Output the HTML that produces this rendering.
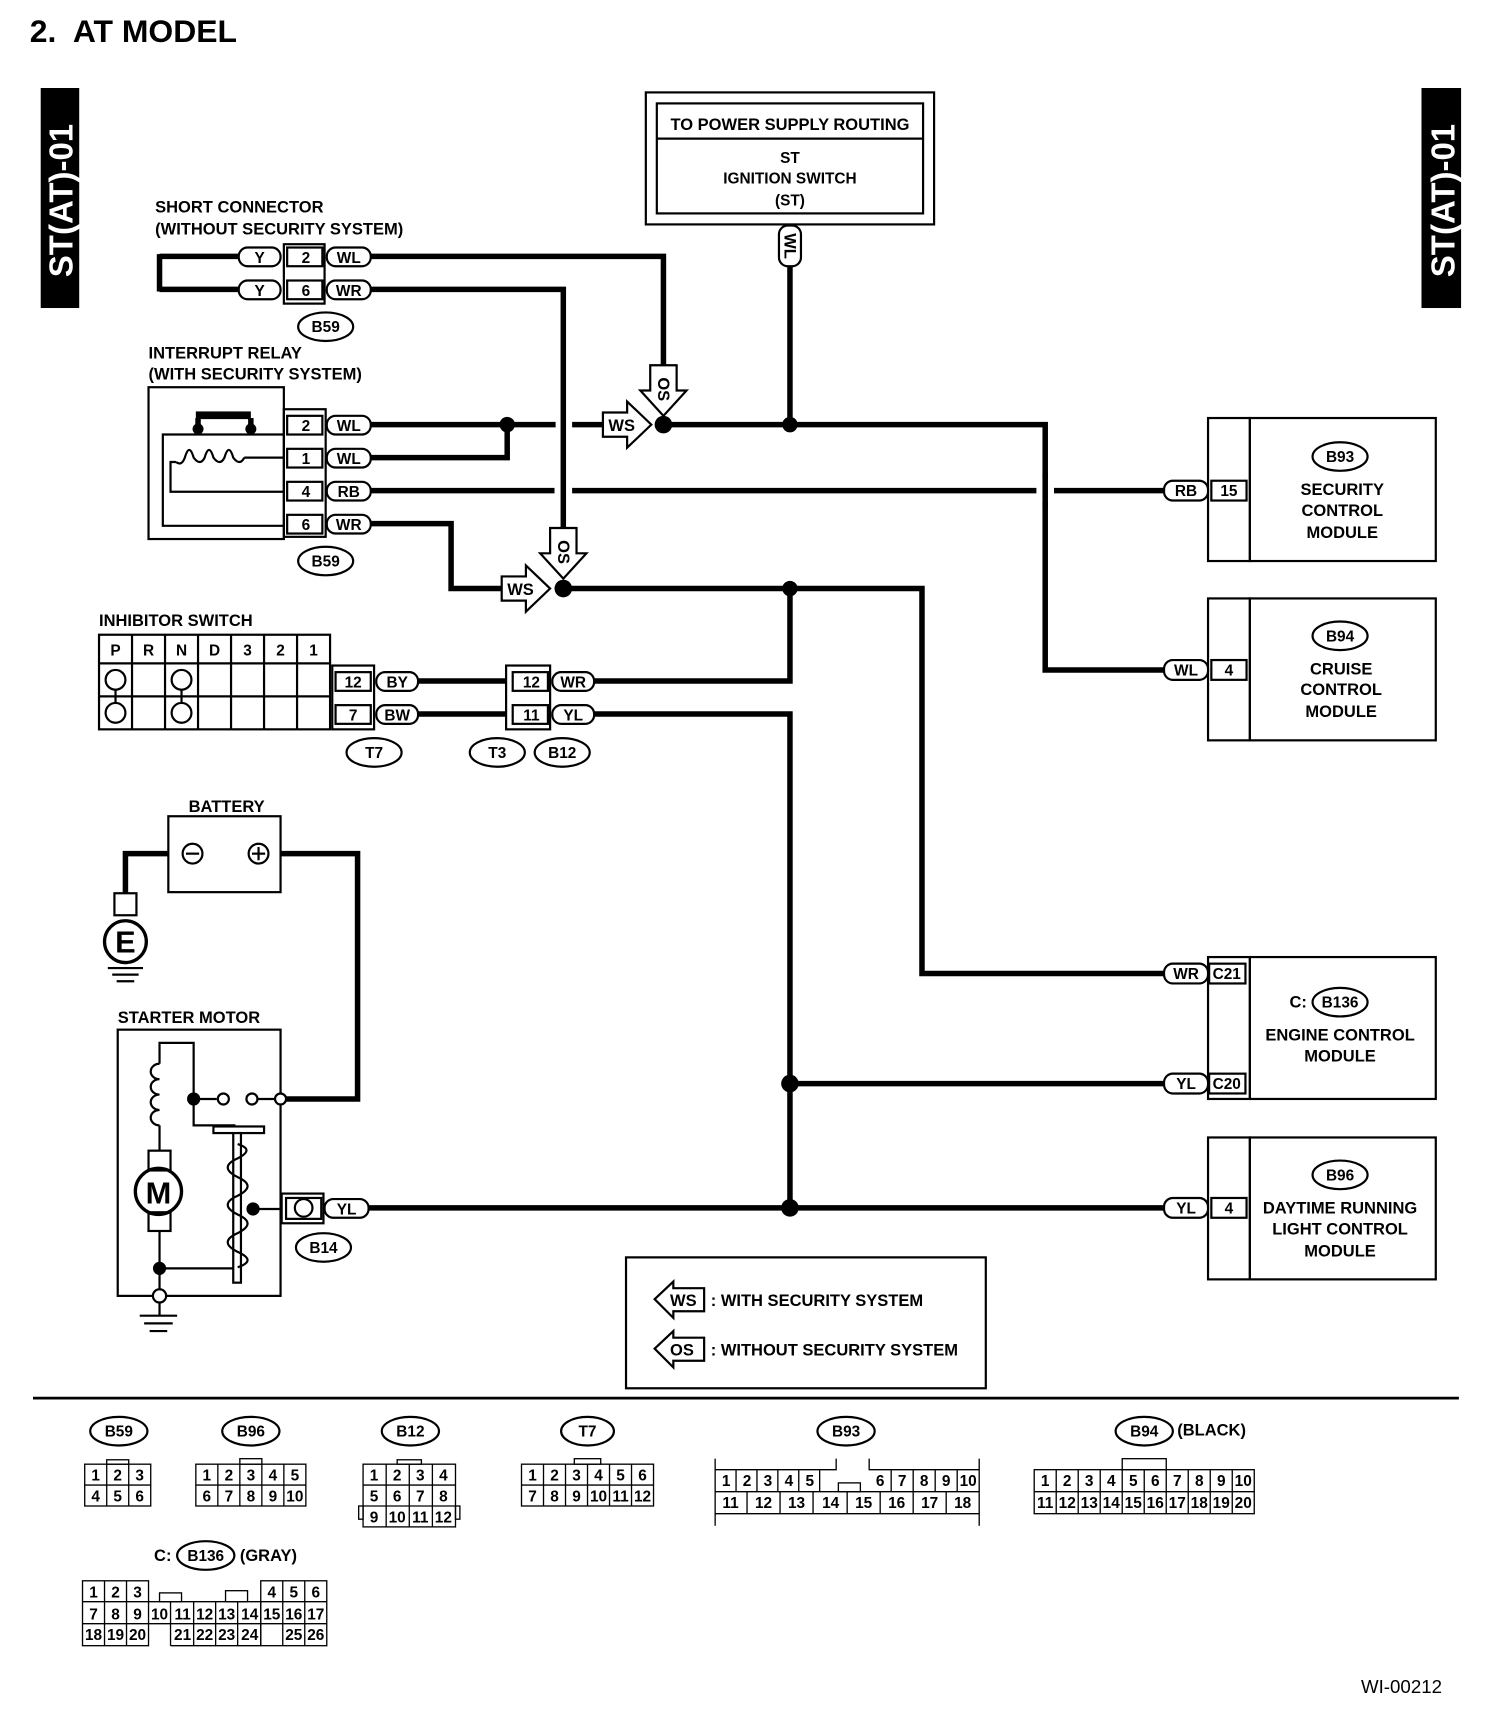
<!DOCTYPE html>
<html><head><meta charset="utf-8"><style>
html,body{margin:0;padding:0;background:#fff}
svg{display:block}
text{font-family:"Liberation Sans",Arial,sans-serif;font-weight:bold;fill:#000}
.s{font-size:15px}
.p{font-size:14px;text-anchor:middle}
.n{font-size:14px;font-weight:normal;text-anchor:middle}
.w{stroke:#000;stroke-width:5;fill:none}
.o{stroke:#000;stroke-width:2;fill:none}
.of{stroke:#000;stroke-width:2;fill:#fff}
.u{stroke:#fff;stroke-width:16;fill:none}
</style></head><body>
<svg width="1504" height="1726" viewBox="0 0 1367 1569" preserveAspectRatio="none" xmlns="http://www.w3.org/2000/svg">
<rect width="1367" height="1569" fill="#fff"/>
<text x="27" y="38" style="font-size:29px">2.&#160; AT MODEL</text>
<!-- side tabs -->
<rect x="37" y="80" width="35" height="200" fill="#000"/>
<text transform="translate(66,252) rotate(-90)" style="font-size:30px;fill:#fff">ST(AT)-01</text>
<rect x="1292" y="80" width="36" height="200" fill="#000"/>
<text transform="translate(1322,252) rotate(-90)" style="font-size:30px;fill:#fff">ST(AT)-01</text>

<!-- power box -->
<rect x="587" y="84" width="262" height="120" class="o"/>
<rect x="597" y="94" width="242" height="100" class="o"/>
<line x1="597" y1="126" x2="839" y2="126" class="o"/>
<text x="718" y="118" class="p" style="font-size:15px">TO POWER SUPPLY ROUTING</text>
<text x="718" y="148" class="p">ST</text>
<text x="718" y="167" class="p">IGNITION SWITCH</text>
<text x="718" y="187" class="p">(ST)</text>

<!-- wires -->
<polyline points="718,242 718,386" class="w"/>
<polyline points="337,233 603,233 603,335" class="w"/>
<polyline points="145,233 217,233" class="w"/>
<polyline points="145,263 217,263" class="w"/>
<polyline points="145,231 145,265" class="w"/>
<polyline points="337,386 505,386" class="w"/>
<polyline points="520,386 548,386" class="w"/>
<polyline points="461,386 461,416 337,416" class="w"/>
<polyline points="603,386 950,386 950,609 1058,609" class="w"/>
<polyline points="337,446 1058,446" class="w"/>
<polyline points="337,476 410,476 410,535 456,535" class="w"/>
<polyline points="512,535 838,535 838,885 1058,885" class="w"/>
<polyline points="718,535 718,619 540,619" class="w"/>
<polyline points="540,649 718,649 718,1098" class="w"/>
<polyline points="718,985 1058,985" class="w"/>
<polyline points="335,1098 1058,1098" class="w"/>
<polyline points="380,619 460,619" class="w"/>
<polyline points="380,649 460,649" class="w"/>
<polyline points="153,776 114,776 114,812" class="w"/>
<polyline points="255,776 325,776 325,999 258,999" class="w"/>
<!-- crossing vertical at 512 -->
<line x1="512" y1="400" x2="512" y2="470" class="u"/>
<polyline points="337,263 512,263 512,482" class="w"/>
<line x1="950" y1="436" x2="950" y2="456" class="u"/>
<line x1="950" y1="430" x2="950" y2="462" class="w"/>

<!-- dots -->
<g fill="#000">
<circle cx="461" cy="386" r="7"/><circle cx="603" cy="386" r="8"/><circle cx="718" cy="386" r="7"/>
<circle cx="512" cy="535" r="8"/><circle cx="718" cy="535" r="7"/><circle cx="718" cy="985" r="8"/><circle cx="718" cy="1098" r="8"/>
</g>

<!-- arrows -->
<polygon points="591,332 615,332 615,355 624,355 603,378 582,355 591,355" class="of"/>
<text transform="translate(598,343) rotate(90)" class="s">OS</text>
<polygon points="548,375 570,375 570,365 592,386 570,407 570,397 548,397" class="of"/>
<text x="553" y="392" class="s">WS</text>
<polygon points="500,480 524,480 524,503 533,503 512,526 491,503 500,503" class="of"/>
<text transform="translate(507,491) rotate(90)" class="s">OS</text>
<polygon points="456,524 478,524 478,514 500,535 478,556 478,546 456,546" class="of"/>
<text x="461" y="541" class="s">WS</text>

<!-- WL vertical pill -->
<rect x="708" y="205" width="20" height="37" rx="8" class="of"/>
<text transform="translate(713,212) rotate(90)" class="s">WL</text>

<!-- short connector -->
<text x="141" y="193" class="s">SHORT CONNECTOR</text>
<text x="141" y="213" class="s">(WITHOUT SECURITY SYSTEM)</text>
<rect x="217" y="225" width="38" height="17" rx="8" class="of"/><text x="236" y="239" class="p">Y</text>
<rect x="217" y="255" width="38" height="17" rx="8" class="of"/><text x="236" y="269" class="p">Y</text>
<rect x="258" y="222" width="37" height="54" class="o"/>
<rect x="261" y="225" width="32" height="17" class="o"/><text x="278" y="239" class="p">2</text>
<rect x="261" y="255" width="32" height="17" class="o"/><text x="278" y="269" class="p">6</text>
<rect x="297" y="225" width="40" height="17" rx="8" class="of"/><text x="317" y="239" class="p">WL</text>
<rect x="297" y="255" width="40" height="17" rx="8" class="of"/><text x="317" y="269" class="p">WR</text>
<ellipse cx="296" cy="297" rx="25" ry="13" class="o"/><text x="296" y="302" class="p">B59</text>

<!-- interrupt relay -->
<text x="135" y="326" class="s">INTERRUPT RELAY</text>
<text x="135" y="345" class="s">(WITH SECURITY SYSTEM)</text>
<rect x="135" y="352" width="123" height="138" class="o"/>
<polyline points="258,395 148,395 148,478 258,478" class="o"/>
<polyline points="258,416 240,416 222,416" class="o"/>
<path d="M222,416 q-4,8 -10,0 q-4,-14 -8,0 q-4,8 -10,0 q-4,-14 -8,0 q-4,8 -10,0 q-4,-14 -8,0 q-3,8 -8,4" class="o"/>
<polyline points="160,420 155,420 155,447 258,447" class="o"/>
<rect x="178" y="374" width="50" height="7" fill="#000"/>
<circle cx="180" cy="390" r="5" fill="#000"/><circle cx="228" cy="390" r="5" fill="#000"/>
<line x1="180" y1="380" x2="180" y2="390" class="w"/><line x1="228" y1="380" x2="228" y2="390" class="w"/>
<rect x="258" y="372" width="38" height="116" class="o"/>
<rect x="261" y="378" width="32" height="17" class="o"/><text x="278" y="392" class="p">2</text>
<rect x="261" y="408" width="32" height="17" class="o"/><text x="278" y="422" class="p">1</text>
<rect x="261" y="438" width="32" height="17" class="o"/><text x="278" y="452" class="p">4</text>
<rect x="261" y="468" width="32" height="17" class="o"/><text x="278" y="482" class="p">6</text>
<rect x="297" y="378" width="40" height="17" rx="8" class="of"/><text x="317" y="392" class="p">WL</text>
<rect x="297" y="408" width="40" height="17" rx="8" class="of"/><text x="317" y="422" class="p">WL</text>
<rect x="297" y="438" width="40" height="17" rx="8" class="of"/><text x="317" y="452" class="p">RB</text>
<rect x="297" y="468" width="40" height="17" rx="8" class="of"/><text x="317" y="482" class="p">WR</text>
<ellipse cx="296" cy="510" rx="25" ry="13" class="o"/><text x="296" y="515" class="p">B59</text>

<!-- inhibitor switch -->
<text x="90" y="569" class="s">INHIBITOR SWITCH</text>
<rect x="90" y="577" width="210" height="86" class="o"/>
<line x1="90" y1="603" x2="300" y2="603" class="o"/><line x1="90" y1="633" x2="300" y2="633" class="o"/>
<g class="o"><line x1="120" y1="577" x2="120" y2="663"/><line x1="150" y1="577" x2="150" y2="663"/><line x1="180" y1="577" x2="180" y2="663"/><line x1="210" y1="577" x2="210" y2="663"/><line x1="240" y1="577" x2="240" y2="663"/><line x1="270" y1="577" x2="270" y2="663"/></g>
<text x="105" y="596" class="p">P</text><text x="135" y="596" class="p">R</text><text x="165" y="596" class="p">N</text><text x="195" y="596" class="p">D</text><text x="225" y="596" class="p">3</text><text x="255" y="596" class="p">2</text><text x="285" y="596" class="p">1</text>
<circle cx="105" cy="618" r="9" class="o"/><circle cx="105" cy="648" r="9" class="o"/><circle cx="165" cy="618" r="9" class="o"/><circle cx="165" cy="648" r="9" class="o"/>
<line x1="105" y1="627" x2="105" y2="639" class="o"/><line x1="165" y1="627" x2="165" y2="639" class="o"/>
<rect x="302" y="605" width="38" height="58" class="o"/>
<rect x="305" y="611" width="32" height="17" class="o"/><text x="321" y="625" class="p">12</text>
<rect x="305" y="641" width="32" height="17" class="o"/><text x="321" y="655" class="p">7</text>
<rect x="342" y="611" width="38" height="17" rx="8" class="of"/><text x="361" y="625" class="p">BY</text>
<rect x="342" y="641" width="38" height="17" rx="8" class="of"/><text x="361" y="655" class="p">BW</text>
<ellipse cx="340" cy="684" rx="25" ry="13" class="o"/><text x="340" y="689" class="p">T7</text>
<rect x="460" y="605" width="40" height="58" class="o"/>
<rect x="466" y="611" width="32" height="17" class="o"/><text x="483" y="625" class="p">12</text>
<rect x="466" y="641" width="32" height="17" class="o"/><text x="483" y="655" class="p">11</text>
<rect x="502" y="611" width="38" height="17" rx="8" class="of"/><text x="521" y="625" class="p">WR</text>
<rect x="502" y="641" width="38" height="17" rx="8" class="of"/><text x="521" y="655" class="p">YL</text>
<ellipse cx="452" cy="684" rx="25" ry="13" class="o"/><text x="452" y="689" class="p">T3</text>
<ellipse cx="511" cy="684" rx="25" ry="13" class="o"/><text x="511" y="689" class="p">B12</text>

<!-- battery -->
<text x="206" y="738" class="p" style="font-size:15px">BATTERY</text>
<rect x="153" y="742" width="102" height="69" class="of"/>
<circle cx="175" cy="776" r="9" class="o"/><line x1="169" y1="776" x2="181" y2="776" class="o"/>
<circle cx="235" cy="776" r="9" class="o"/><line x1="229" y1="776" x2="241" y2="776" class="o"/><line x1="235" y1="770" x2="235" y2="782" class="o"/>
<rect x="104" y="812" width="20" height="20" class="of"/>
<circle cx="114" cy="856" r="19" class="o" style="stroke-width:3"/>
<text x="114" y="866" class="p" style="font-size:28px">E</text>
<line x1="98" y1="880" x2="130" y2="880" class="o"/><line x1="102" y1="886" x2="126" y2="886" class="o"/><line x1="106" y1="892" x2="122" y2="892" class="o"/>

<!-- starter motor -->
<text x="107" y="930" class="s">STARTER MOTOR</text>
<rect x="107" y="936" width="148" height="242" class="o"/>
<polyline points="145,967 145,948 176,948 176,1023 214,1023" class="o"/>
<path d="M145,967 a8,7 0 1 0 0,14 a8,7 0 1 0 0,14 a8,7 0 1 0 0,14 a8,7 0 1 0 0,14" class="o"/>
<line x1="145" y1="1023" x2="145" y2="1046" class="o"/>
<rect x="135" y="1046" width="20" height="18" class="o"/>
<circle cx="144" cy="1083" r="21" class="o" style="stroke-width:3"/>
<text x="144" y="1094" class="p" style="font-size:28px">M</text>
<rect x="135" y="1102" width="20" height="17" class="o"/>
<polyline points="145,1119 145,1196" class="o"/>
<polyline points="145,1153 212,1153" class="o"/>
<circle cx="145" cy="1153" r="6" fill="#000"/>
<circle cx="145" cy="1178" r="6" class="of"/>
<line x1="127" y1="1196" x2="161" y2="1196" class="o"/><line x1="131" y1="1203" x2="157" y2="1203" class="o"/><line x1="136" y1="1210" x2="152" y2="1210" class="o"/>
<circle cx="176" cy="999" r="6" fill="#000"/>
<line x1="176" y1="999" x2="197" y2="999" class="o"/>
<circle cx="203" cy="999" r="5" class="of"/>
<circle cx="229" cy="999" r="5" class="of"/>
<line x1="234" y1="999" x2="250" y2="999" class="o"/>
<circle cx="255" cy="999" r="5" class="of"/>
<rect x="194" y="1024" width="46" height="6" class="of"/>
<rect x="212" y="1030" width="7" height="136" class="of"/>
<path d="M216,1040 q16,5 0,13 q-18,8 0,17 q18,8 0,17 q-18,8 0,17 q18,8 0,17 q-18,8 0,17 q18,8 0,14" class="o"/>
<circle cx="230" cy="1099" r="6" fill="#000"/>
<line x1="230" y1="1099" x2="256" y2="1099" class="o"/>
<rect x="256" y="1085" width="38" height="27" class="o"/>
<rect x="260" y="1089" width="32" height="19" class="o"/>
<circle cx="276" cy="1098" r="8" class="o"/>
<rect x="295" y="1090" width="40" height="17" rx="8" class="of"/><text x="315" y="1104" class="p">YL</text>
<ellipse cx="294" cy="1134" rx="25" ry="13" class="o"/><text x="294" y="1139" class="p">B14</text>

<!-- modules -->
<g>
<rect x="1098" y="380" width="38" height="130" class="o"/><rect x="1136" y="380" width="169" height="130" class="o"/>
<rect x="1101" y="437" width="32" height="18" class="of"/><text x="1117" y="451" class="p">15</text>
<rect x="1058" y="437" width="40" height="18" rx="8" class="of"/><text x="1078" y="451" class="p">RB</text>
<ellipse cx="1218" cy="415" rx="25" ry="13" class="o"/><text x="1218" y="420" class="p">B93</text>
<text x="1220" y="450" class="p" style="font-size:15px">SECURITY</text><text x="1220" y="469" class="p" style="font-size:15px">CONTROL</text><text x="1220" y="489" class="p" style="font-size:15px">MODULE</text>

<rect x="1098" y="544" width="38" height="129" class="o"/><rect x="1136" y="544" width="169" height="129" class="o"/>
<rect x="1101" y="600" width="32" height="18" class="of"/><text x="1117" y="614" class="p">4</text>
<rect x="1058" y="600" width="40" height="18" rx="8" class="of"/><text x="1078" y="614" class="p">WL</text>
<ellipse cx="1218" cy="578" rx="25" ry="13" class="o"/><text x="1218" y="583" class="p">B94</text>
<text x="1219" y="613" class="p" style="font-size:15px">CRUISE</text><text x="1219" y="632" class="p" style="font-size:15px">CONTROL</text><text x="1219" y="652" class="p" style="font-size:15px">MODULE</text>

<rect x="1098" y="870" width="38" height="129" class="o"/><rect x="1136" y="870" width="169" height="129" class="o"/>
<rect x="1099" y="876" width="33" height="18" class="of"/><text x="1115" y="890" class="p">C21</text>
<rect x="1099" y="976" width="33" height="18" class="of"/><text x="1115" y="990" class="p">C20</text>
<rect x="1058" y="876" width="40" height="18" rx="8" class="of"/><text x="1078" y="890" class="p">WR</text>
<rect x="1058" y="976" width="40" height="18" rx="8" class="of"/><text x="1078" y="990" class="p">YL</text>
<text x="1172" y="916" class="s">C:</text>
<ellipse cx="1218" cy="911" rx="25" ry="13" class="o"/><text x="1218" y="916" class="p">B136</text>
<text x="1218" y="946" class="p" style="font-size:15px">ENGINE CONTROL</text><text x="1218" y="965" class="p" style="font-size:15px">MODULE</text>

<rect x="1098" y="1034" width="38" height="129" class="o"/><rect x="1136" y="1034" width="169" height="129" class="o"/>
<rect x="1101" y="1089" width="32" height="18" class="of"/><text x="1117" y="1103" class="p">4</text>
<rect x="1058" y="1089" width="40" height="18" rx="8" class="of"/><text x="1078" y="1103" class="p">YL</text>
<ellipse cx="1218" cy="1068" rx="25" ry="13" class="o"/><text x="1218" y="1073" class="p">B96</text>
<text x="1218" y="1103" class="p" style="font-size:15px">DAYTIME RUNNING</text><text x="1218" y="1122" class="p" style="font-size:15px">LIGHT CONTROL</text><text x="1218" y="1142" class="p" style="font-size:15px">MODULE</text>
</g>

<!-- legend -->
<rect x="569" y="1143" width="327" height="119" class="o"/>
<polygon points="595,1181 612,1165 612,1171 640,1171 640,1192 612,1192 612,1198" class="of"/>
<text x="609" y="1187" class="s">WS</text>
<text x="646" y="1187" class="s">: WITH SECURITY SYSTEM</text>
<polygon points="595,1226 612,1210 612,1216 640,1216 640,1237 612,1237 612,1243" class="of"/>
<text x="609" y="1232" class="s">OS</text>
<text x="646" y="1232" class="s">: WITHOUT SECURITY SYSTEM</text>

<line x1="30" y1="1271" x2="1326" y2="1271" stroke="#000" stroke-width="2.5"/>

<!-- bottom connectors -->
<g class="o">
<ellipse cx="108" cy="1301" rx="26" ry="13"/><ellipse cx="228" cy="1301" rx="26" ry="13"/><ellipse cx="373" cy="1301" rx="26" ry="13"/><ellipse cx="534" cy="1301" rx="24" ry="13"/><ellipse cx="769" cy="1301" rx="26" ry="13"/><ellipse cx="1040" cy="1301" rx="26" ry="13"/><ellipse cx="187" cy="1414" rx="26" ry="13"/>
</g>
<text x="108" y="1306" class="p">B59</text><text x="228" y="1306" class="p">B96</text><text x="373" y="1306" class="p">B12</text><text x="534" y="1306" class="p">T7</text><text x="769" y="1306" class="p">B93</text><text x="1040" y="1306" class="p">B94</text><text x="1070" y="1305" class="s">(BLACK)</text>
<text x="140" y="1419" class="s">C:</text><text x="187" y="1419" class="p">B136</text><text x="218" y="1419" class="s">(GRAY)</text>
<g style="stroke:#000;stroke-width:1.2;fill:none">
<rect x="77" y="1331" width="60" height="38"/><line x1="77" y1="1350" x2="137" y2="1350"/><line x1="97" y1="1331" x2="97" y2="1369"/><line x1="117" y1="1331" x2="117" y2="1369"/><rect x="97" y="1327" width="20" height="4"/>
<rect x="178" y="1331" width="100" height="38"/><line x1="178" y1="1350" x2="278" y2="1350"/><line x1="198" y1="1331" x2="198" y2="1369"/><line x1="218" y1="1331" x2="218" y2="1369"/><line x1="238" y1="1331" x2="238" y2="1369"/><line x1="258" y1="1331" x2="258" y2="1369"/><rect x="218" y="1326" width="20" height="5"/>
<rect x="330" y="1331" width="84" height="57"/><line x1="330" y1="1350" x2="414" y2="1350"/><line x1="330" y1="1369" x2="414" y2="1369"/><line x1="351" y1="1331" x2="351" y2="1388"/><line x1="372" y1="1331" x2="372" y2="1388"/><line x1="393" y1="1331" x2="393" y2="1388"/><rect x="361" y="1327" width="22" height="4"/><rect x="326" y="1369" width="4" height="12"/><rect x="414" y="1369" width="4" height="12"/>
<rect x="474" y="1331" width="120" height="38"/><line x1="474" y1="1350" x2="594" y2="1350"/><line x1="494" y1="1331" x2="494" y2="1369"/><line x1="514" y1="1331" x2="514" y2="1369"/><line x1="534" y1="1331" x2="534" y2="1369"/><line x1="554" y1="1331" x2="554" y2="1369"/><line x1="574" y1="1331" x2="574" y2="1369"/><rect x="522" y="1326" width="24" height="5"/>
<polyline points="650,1326 650,1387"/><polyline points="890,1326 890,1387"/>
<polyline points="650,1336 760,1336 760,1326"/><polyline points="790,1326 790,1336 890,1336"/>
<line x1="650" y1="1356" x2="890" y2="1356"/><line x1="650" y1="1376" x2="890" y2="1376"/>
<line x1="669" y1="1336" x2="669" y2="1356"/><line x1="688" y1="1336" x2="688" y2="1356"/><line x1="707" y1="1336" x2="707" y2="1356"/><line x1="726" y1="1336" x2="726" y2="1356"/><line x1="745" y1="1336" x2="745" y2="1356"/>
<line x1="810" y1="1336" x2="810" y2="1356"/><line x1="830" y1="1336" x2="830" y2="1356"/><line x1="850" y1="1336" x2="850" y2="1356"/><line x1="870" y1="1336" x2="870" y2="1356"/>
<line x1="679" y1="1356" x2="679" y2="1376"/><line x1="709" y1="1356" x2="709" y2="1376"/><line x1="739" y1="1356" x2="739" y2="1376"/><line x1="770" y1="1356" x2="770" y2="1376"/><line x1="800" y1="1356" x2="800" y2="1376"/><line x1="830" y1="1356" x2="830" y2="1376"/><line x1="860" y1="1356" x2="860" y2="1376"/>
<rect x="762" y="1348" width="20" height="8"/>
<rect x="940" y="1336" width="200" height="40"/><line x1="940" y1="1356" x2="1140" y2="1356"/>
<line x1="960" y1="1336" x2="960" y2="1376"/><line x1="980" y1="1336" x2="980" y2="1376"/><line x1="1000" y1="1336" x2="1000" y2="1376"/><line x1="1020" y1="1336" x2="1020" y2="1376"/><line x1="1040" y1="1336" x2="1040" y2="1376"/><line x1="1060" y1="1336" x2="1060" y2="1376"/><line x1="1080" y1="1336" x2="1080" y2="1376"/><line x1="1100" y1="1336" x2="1100" y2="1376"/><line x1="1120" y1="1336" x2="1120" y2="1376"/>
<rect x="1020" y="1326" width="40" height="10"/>
<rect x="75" y="1437" width="60" height="59"/><rect x="237" y="1437" width="60" height="59"/>
<line x1="75" y1="1456" x2="297" y2="1456"/><line x1="75" y1="1476" x2="297" y2="1476"/>
<line x1="95" y1="1437" x2="95" y2="1496"/><line x1="115" y1="1437" x2="115" y2="1496"/><line x1="257" y1="1437" x2="257" y2="1496"/><line x1="277" y1="1437" x2="277" y2="1496"/>
<line x1="155" y1="1456" x2="155" y2="1496"/><line x1="176" y1="1456" x2="176" y2="1496"/><line x1="196" y1="1456" x2="196" y2="1496"/><line x1="216" y1="1456" x2="216" y2="1496"/><line x1="237" y1="1456" x2="237" y2="1496"/>
<line x1="155" y1="1496" x2="237" y2="1496"/>
<rect x="145" y="1448" width="20" height="8"/><rect x="205" y="1446" width="20" height="10"/>
</g>
<g class="n">
<text x="87" y="1346">1</text><text x="107" y="1346">2</text><text x="127" y="1346">3</text><text x="87" y="1365">4</text><text x="107" y="1365">5</text><text x="127" y="1365">6</text>
<text x="188" y="1346">1</text><text x="208" y="1346">2</text><text x="228" y="1346">3</text><text x="248" y="1346">4</text><text x="268" y="1346">5</text>
<text x="188" y="1365">6</text><text x="208" y="1365">7</text><text x="228" y="1365">8</text><text x="248" y="1365">9</text><text x="268" y="1365">10</text>
<text x="340" y="1346">1</text><text x="361" y="1346">2</text><text x="382" y="1346">3</text><text x="403" y="1346">4</text>
<text x="340" y="1365">5</text><text x="361" y="1365">6</text><text x="382" y="1365">7</text><text x="403" y="1365">8</text>
<text x="340" y="1384">9</text><text x="361" y="1384">10</text><text x="382" y="1384">11</text><text x="403" y="1384">12</text>
<text x="484" y="1346">1</text><text x="504" y="1346">2</text><text x="524" y="1346">3</text><text x="544" y="1346">4</text><text x="564" y="1346">5</text><text x="584" y="1346">6</text>
<text x="484" y="1365">7</text><text x="504" y="1365">8</text><text x="524" y="1365">9</text><text x="544" y="1365">10</text><text x="564" y="1365">11</text><text x="584" y="1365">12</text>
<text x="660" y="1351">1</text><text x="679" y="1351">2</text><text x="698" y="1351">3</text><text x="717" y="1351">4</text><text x="736" y="1351">5</text>
<text x="800" y="1351">6</text><text x="820" y="1351">7</text><text x="840" y="1351">8</text><text x="860" y="1351">9</text><text x="880" y="1351">10</text>
<text x="664" y="1371">11</text><text x="694" y="1371">12</text><text x="724" y="1371">13</text><text x="755" y="1371">14</text><text x="785" y="1371">15</text><text x="815" y="1371">16</text><text x="845" y="1371">17</text><text x="875" y="1371">18</text>
<text x="950" y="1351">1</text><text x="970" y="1351">2</text><text x="990" y="1351">3</text><text x="1010" y="1351">4</text><text x="1030" y="1351">5</text><text x="1050" y="1351">6</text><text x="1070" y="1351">7</text><text x="1090" y="1351">8</text><text x="1110" y="1351">9</text><text x="1130" y="1351">10</text>
<text x="950" y="1371">11</text><text x="970" y="1371">12</text><text x="990" y="1371">13</text><text x="1010" y="1371">14</text><text x="1030" y="1371">15</text><text x="1050" y="1371">16</text><text x="1070" y="1371">17</text><text x="1090" y="1371">18</text><text x="1110" y="1371">19</text><text x="1130" y="1371">20</text>
<text x="85" y="1452">1</text><text x="105" y="1452">2</text><text x="125" y="1452">3</text><text x="247" y="1452">4</text><text x="267" y="1452">5</text><text x="287" y="1452">6</text>
<text x="85" y="1472">7</text><text x="105" y="1472">8</text><text x="125" y="1472">9</text><text x="145" y="1472">10</text><text x="166" y="1472">11</text><text x="186" y="1472">12</text><text x="206" y="1472">13</text><text x="227" y="1472">14</text><text x="247" y="1472">15</text><text x="267" y="1472">16</text><text x="287" y="1472">17</text>
<text x="85" y="1491">18</text><text x="105" y="1491">19</text><text x="125" y="1491">20</text><text x="166" y="1491">21</text><text x="186" y="1491">22</text><text x="206" y="1491">23</text><text x="227" y="1491">24</text><text x="267" y="1491">25</text><text x="287" y="1491">26</text>
</g>
<text x="1237" y="1539" style="font-size:17px;font-weight:normal">WI-00212</text>
</svg>
</body></html>
